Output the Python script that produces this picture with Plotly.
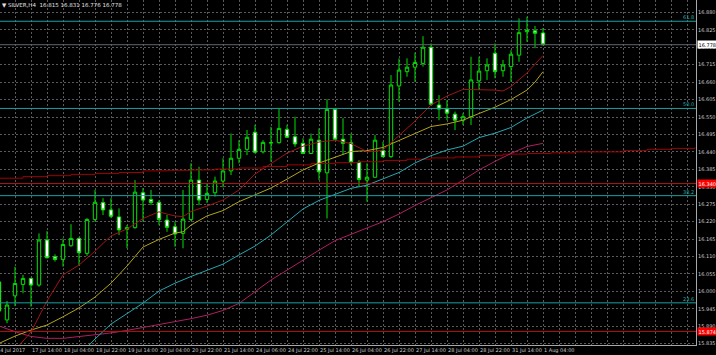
import plotly.graph_objects as go

# ---------------- data ----------------
bar_idx = list(range(69))
opens = [16.030,15.910,15.986,16.022,16.041,16.020,16.162,16.109,16.101,16.144,
         16.167,16.120,16.227,16.280,16.257,16.235,16.196,16.201,16.311,16.290,
         16.281,16.225,16.204,16.183,16.227,16.351,16.290,16.311,16.348,16.380,
         16.420,16.448,16.502,16.440,16.468,16.469,16.511,16.488,16.467,16.435,
         16.477,16.374,16.574,16.480,16.469,16.407,16.351,16.360,16.444,16.425,
         16.648,16.693,16.707,16.719,16.770,16.588,16.575,16.559,16.540,16.551,
         16.664,16.696,16.751,16.696,16.709,16.745,16.819,16.822,16.815]
highs = [16.039,15.970,16.078,16.052,16.043,16.183,16.190,16.117,16.167,16.212,
         16.171,16.231,16.320,16.294,16.294,16.262,16.209,16.351,16.326,16.320,
         16.288,16.241,16.220,16.320,16.404,16.393,16.342,16.362,16.420,16.498,
         16.477,16.509,16.525,16.477,16.519,16.577,16.525,16.551,16.483,16.498,
         16.514,16.606,16.577,16.546,16.498,16.414,16.404,16.493,16.472,16.682,
         16.735,16.735,16.753,16.805,16.782,16.619,16.603,16.567,16.562,16.740,
         16.740,16.735,16.782,16.730,16.761,16.861,16.866,16.837,16.831]
lows = [15.925,15.900,15.954,15.994,15.952,16.015,16.104,16.094,16.078,16.141,
        16.083,16.112,16.220,16.241,16.231,16.178,16.136,16.198,16.220,16.272,
        16.209,16.188,16.141,16.136,16.222,16.272,16.279,16.299,16.328,16.367,
        16.404,16.430,16.435,16.435,16.409,16.466,16.484,16.456,16.433,16.433,
        16.351,16.230,16.477,16.430,16.399,16.330,16.283,16.358,16.422,16.421,
        16.598,16.677,16.661,16.709,16.588,16.540,16.540,16.509,16.525,16.525,
        16.635,16.667,16.672,16.677,16.661,16.724,16.787,16.767,16.776]
closes = [15.938,15.957,16.025,16.041,16.020,16.162,16.106,16.101,16.148,16.167,
          16.122,16.227,16.281,16.257,16.237,16.194,16.201,16.313,16.288,16.280,
          16.227,16.202,16.181,16.228,16.351,16.288,16.309,16.348,16.380,16.420,
          16.448,16.486,16.439,16.470,16.469,16.514,16.486,16.465,16.435,16.480,
          16.377,16.574,16.480,16.467,16.407,16.353,16.360,16.477,16.425,16.651,
          16.698,16.707,16.722,16.770,16.590,16.575,16.562,16.540,16.551,16.667,
          16.695,16.714,16.693,16.714,16.748,16.816,16.823,16.814,16.778]

red_ma_idx = [2,3,4,6,8,10,12,14,16,18,20,21,22,23,24,26,28,30,32,34,36,38,40,42,44,46,47,48,50,52,54,56,58,60,62,63,64,66,68]
red_ma_val = [15.815,15.843,15.872,15.970,16.052,16.083,16.127,16.175,16.197,16.230,16.251,16.244,16.238,16.236,16.252,16.269,16.288,16.320,16.370,16.403,16.436,16.458,16.471,16.477,16.466,16.441,16.441,16.446,16.493,16.537,16.588,16.616,16.637,16.637,16.635,16.632,16.646,16.689,16.744]

yel_ma_idx = [0,2,4,6,8,10,12,14,16,18,20,22,23,24,26,28,30,32,34,36,38,40,42,44,46,48,50,52,54,56,58,60,62,64,66,67,68]
yel_ma_val = [15.836,15.859,15.878,15.894,15.920,15.948,15.982,16.026,16.080,16.140,16.164,16.184,16.188,16.209,16.238,16.255,16.283,16.305,16.326,16.354,16.383,16.405,16.424,16.441,16.444,16.454,16.476,16.499,16.520,16.528,16.540,16.561,16.581,16.605,16.635,16.660,16.693]

teal_ma_idx = [11,12,14,16,18,20,22,24,26,28,30,32,34,36,38,40,42,44,46,48,50,52,54,56,58,60,62,64,66,68]
teal_ma_val = [15.824,15.850,15.897,15.929,15.963,16.001,16.026,16.047,16.067,16.086,16.115,16.143,16.178,16.220,16.260,16.287,16.307,16.325,16.335,16.354,16.375,16.405,16.428,16.446,16.458,16.485,16.499,16.517,16.547,16.572]

mag_ma_idx = list(range(0, 69, 2))
mag_ma_val = [15.891,15.873,15.858,15.852,15.852,15.857,15.862,15.869,15.877,15.886,
              15.897,15.905,15.914,15.925,15.940,15.962,15.998,16.036,16.067,16.099,
              16.130,16.160,16.181,16.200,16.220,16.244,16.271,16.296,16.320,16.351,
              16.383,16.410,16.435,16.457,16.467]

step_idx = list(range(0, 88, 3))
step_val = [16.357,16.362,16.365,16.369,16.372,16.375,16.380,16.382,16.383,16.386,
            16.389,16.394,16.399,16.403,16.406,16.409,16.413,16.417,16.421,16.424,
            16.428,16.433,16.435,16.437,16.440,16.440,16.444,16.448,16.451,16.454]

fib_levels = [16.852, 16.577, 16.302, 15.964]
fib_labels = ["61.8", "50.0", "38.2", "23.6"]
red_levels = [16.340, 15.874]
red_level_labels = ["16.340", "15.874"]
bid_price = 16.778
bid_label = "16.778"

y_ticks = [15.835,15.890,15.945,16.000,16.055,16.110,16.165,16.220,16.275,16.330,
           16.385,16.440,16.495,16.550,16.605,16.660,16.715,16.770,16.825,16.880]
y_ticktext = ["%.3f" % v for v in y_ticks]

x_label_idx = list(range(4, 69, 4))
x_labels = ["17 Jul 14:00","18 Jul 04:00","18 Jul 22:00","19 Jul 14:00","20 Jul 04:00",
            "20 Jul 22:00","21 Jul 14:00","24 Jul 06:00","24 Jul 22:00","25 Jul 14:00",
            "26 Jul 04:00","26 Jul 22:00","27 Jul 14:00","28 Jul 04:00","28 Jul 22:00",
            "31 Jul 14:00","1 Aug 04:00"]
first_label = "14 Jul 2017"
header = "▼ SILVER,H4  16.815 16.831 16.776 16.778"

# ---------------- figure ----------------
FONT = "DejaVu Sans"
TXT = "#c8c8c8"
GRID = "#5a5a5a"

fig = go.Figure()
fig.add_trace(go.Candlestick(
    x=bar_idx, open=opens, high=highs, low=lows, close=closes,
    increasing=dict(line=dict(color="#00e000", width=1), fillcolor="#000000"),
    decreasing=dict(line=dict(color="#00e000", width=1), fillcolor="#ffffff"),
    whiskerwidth=0, hoverinfo="skip", showlegend=False))

def line(xs, ys, color, shape="linear", width=1):
    fig.add_trace(go.Scatter(x=xs, y=ys, mode="lines", line=dict(color=color, width=width, shape=shape),
                             hoverinfo="skip", showlegend=False))

line(step_idx, step_val, "#a00000", shape="hv")
line(mag_ma_idx, mag_ma_val, "#b01e62")
line(teal_ma_idx, teal_ma_val, "#24a8b2")
line(yel_ma_idx, yel_ma_val, "#b4a41c")
line(red_ma_idx, red_ma_val, "#a01414")

for lv in fib_levels:
    fig.add_shape(type="line", xref="paper", x0=0, x1=1, yref="y", y0=lv, y1=lv,
                  line=dict(color="#1aa0a0", width=1))
for lv in red_levels:
    fig.add_shape(type="line", xref="paper", x0=0, x1=1, yref="y", y0=lv, y1=lv,
                  line=dict(color="#b41818", width=1))
fig.add_shape(type="line", xref="paper", x0=0, x1=1, yref="y", y0=bid_price, y1=bid_price,
              line=dict(color="#5c6672", width=1))

ann = []
for lv, lab in zip(fib_levels, fib_labels):
    ann.append(dict(xref="paper", x=1, xanchor="right", xshift=-1, yref="y", y=lv, yanchor="bottom",
                    text=lab, showarrow=False, font=dict(family=FONT, size=5, color="#1fb0b0"),
                    borderpad=0))
for lv, lab in zip(red_levels, red_level_labels):
    ann.append(dict(xref="paper", x=1, xanchor="left", xshift=1, yref="y", y=lv, yanchor="middle",
                    text=lab, showarrow=False, bgcolor="#ff0000",
                    font=dict(family=FONT, size=5, color="#ffffff"), borderpad=0.5))
ann.append(dict(xref="paper", x=1, xanchor="left", xshift=1, yref="y", y=bid_price, yanchor="middle",
                text=bid_label, showarrow=False, bgcolor="#ffffff",
                font=dict(family=FONT, size=5, color="#000000"), borderpad=0.5))
for xi, lab in zip(x_label_idx, x_labels):
    ann.append(dict(xref="x", x=xi, xanchor="left", yref="paper", y=0, yanchor="top", yshift=-1,
                    text=lab, showarrow=False, font=dict(family=FONT, size=5, color=TXT), borderpad=0))
ann.append(dict(xref="paper", x=0, xanchor="left", xshift=-4, yref="paper", y=0, yanchor="top", yshift=-1,
                text=first_label, showarrow=False, font=dict(family=FONT, size=5, color=TXT), borderpad=0))
ann.append(dict(xref="paper", x=0, xanchor="left", xshift=1, yref="paper", y=1, yanchor="top", yshift=-1,
                text=header, showarrow=False, font=dict(family=FONT, size=5.5, color="#e0e0e0"), borderpad=0))

fig.update_layout(
    width=716, height=355, autosize=False,
    margin=dict(l=0, r=20, t=0, b=10, pad=0),
    paper_bgcolor="#000000", plot_bgcolor="#000000",
    boxgap=0.4,
    annotations=ann,
    xaxis=dict(range=[0.125, 87.125], tickmode="linear", tick0=0, dtick=4,
               showticklabels=False, ticks="", showgrid=True, gridcolor=GRID, griddash="2px,2px",
               gridwidth=1, zeroline=False, showline=True, linecolor="#a8a8a8", linewidth=1,
               rangeslider=dict(visible=False), fixedrange=True,
               minor=dict(dtick=2, tick0=0, showgrid=True, gridcolor=GRID, griddash="2px,2px", gridwidth=1)),
    yaxis=dict(range=[15.831, 16.919], side="right", tickmode="array", tickvals=y_ticks, ticktext=y_ticktext,
               tickfont=dict(family=FONT, size=5, color=TXT), ticks="", showgrid=True, gridcolor=GRID,
               griddash="2px,2px", gridwidth=1, zeroline=False, showline=True, linecolor="#a8a8a8",
               linewidth=1, fixedrange=True),
)

fig.write_html("out.html")
